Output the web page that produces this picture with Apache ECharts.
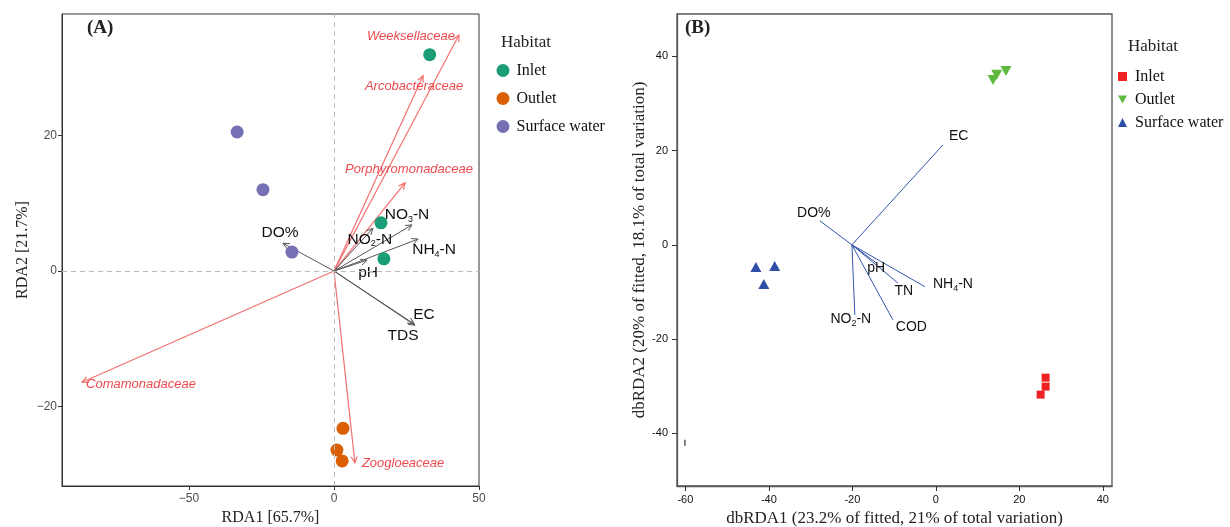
<!DOCTYPE html>
<html><head><meta charset="utf-8">
<script src="https://cdn.jsdelivr.net/npm/echarts@6/dist/echarts.min.js"></script>
<style>html,body{margin:0;padding:0;background:#fff}#c{width:1230px;height:527px}</style>
</head><body><div id="c"></div>
<script>
// ---------- DATA ----------
const habitats = ['Inlet', 'Outlet', 'Surface water'];

// Panel A (RDA) sample scores
const rdaInlet = [[33.0, 31.9], [16.2, 7.1], [17.2, 1.8]];
const rdaOutlet = [[3.1, -23.2], [1.0, -26.4], [2.8, -28.0]];
const rdaSurface = [[-33.4, 20.5], [-24.5, 12.0], [-14.5, 2.8]];

// Panel A environmental vectors
const envNamesA = ['DO%', 'NO{s|3}-N', 'NO{s|2}-N', 'NH{s|4}-N', 'pH', 'EC', 'TDS'];
const envXA = [-17.6, 26.9, 13.4, 29.0, 11.4, 27.9, 27.6];
const envYA = [4.1, 6.8, 6.3, 4.7, 1.6, -8.0, -7.8];

// Panel A taxa vectors
const taxaNamesA = ['Weeksellaceae', 'Arcobacteraceae', 'Porphyromonadaceae', 'Comamonadaceae', 'Zoogloeaceae'];
const taxaXA = [43.1, 30.7, 24.5, -86.9, 7.2];
const taxaYA = [34.8, 28.8, 13.0, -16.4, -28.3];

// Panel B (dbRDA) sample scores
const dbInlet = [[26.3, -28.2], [26.3, -30.1], [25.1, -31.8]];
const dbOutlet = [[13.7, 35.0], [14.6, 36.1], [16.8, 36.9]];
const dbSurface = [[-43.1, -4.7], [-38.6, -4.5], [-41.2, -8.3]];
const dbStray = [[-60.1, -42.0]];

// Panel B environmental vectors
const envNamesB = ['EC', 'DO%', 'NH{s|4}-N', 'TN', 'pH', 'COD', 'NO{s|2}-N'];
const envXB = [1.7, -27.8, -2.6, -9.1, -14.3, -10.3, -19.4];
const envYB = [21.2, 5.1, -8.9, -8.1, -3.8, -15.9, -14.9];
const originB = [-20.1, 0];

// Tick labels
const ticksAx = [-50, 0, 50];
const ticksAy = [-20, 0, 20];
const ticksBx = [-60, -40, -20, 0, 20, 40];
const ticksBy = [-40, -20, 0, 20, 40];

// ---------- LAYOUT (pixel offsets of vector labels) ----------
const labelPosEnvA = [[-3, -10, 'center'], [-5, -10, 'center'], [-3, 11, 'center'], [16, 11, 'center'], [1, 13, 'center'], [9, -11, 'center'], [-11, 12, 'center']];
const labelPosTaxaA = [[-4, 1, 'right'], [-9, 11, 'center'], [4, -13, 'center'], [4, 2, 'left'], [7, 0, 'left']];
const labelPosEnvB = [[6, -9, 'left'], [-6, -8, 'center'], [8, -3, 'left'], [6, 8, 'center'], [0, 5, 'center'], [3, 7, 'left'], [-4, 4, 'center']];

const SANS = '"Liberation Sans", Arial, sans-serif';
const SERIF = '"Liberation Serif", "Times New Roman", serif';
const colA = ['#1B9E77', '#D95F02', '#7570B3'];
const colB = ['#EE2222', '#5DB83E', '#3050A8'];
const downTri = 'path://M0,0 L10,0 L5,9 Z';

function vecRender(cfg) {
  return function (params, api) {
    const o = api.coord(cfg.origin);
    const t = api.coord([api.value(0), api.value(1)]);
    const i = api.value(2);
    const children = [{
      type: 'line',
      shape: { x1: o[0], y1: o[1], x2: t[0], y2: t[1] },
      style: { stroke: cfg.color, lineWidth: cfg.width }
    }];
    if (cfg.arrow) {
      const ang = Math.atan2(t[1] - o[1], t[0] - o[0]);
      const L = 7, a = Math.PI / 7;
      children.push({
        type: 'polyline',
        shape: { points: [[t[0] - L * Math.cos(ang - a), t[1] - L * Math.sin(ang - a)], [t[0], t[1]], [t[0] - L * Math.cos(ang + a), t[1] - L * Math.sin(ang + a)]] },
        style: { stroke: cfg.color, lineWidth: cfg.width, fill: null }
      });
    }
    const lp = cfg.labels[i];
    children.push({
      type: 'text',
      x: t[0] + lp[0], y: t[1] + lp[1],
      style: {
        text: cfg.names[i], align: lp[2], verticalAlign: 'middle',
        fill: cfg.textColor, fontSize: cfg.fontSize, fontFamily: SANS, fontStyle: cfg.italic ? 'italic' : 'normal',
        rich: { s: { fontSize: 9, fontFamily: SANS, fill: cfg.textColor, padding: [9, 0, 0, 0] } }
      }
    });
    return { type: 'group', children };
  };
}

function axisBase(extra) {
  return Object.assign({
    type: 'value',
    splitLine: { show: false },
    axisLine: { show: true, onZero: false, lineStyle: { color: '#333', width: 1 } },
  }, extra);
}

const fmtMinus = v => (v < 0 ? '\u2212' + Math.abs(v) : String(v));

const option = {
  backgroundColor: '#fff',
  animation: false,
  grid: [
    { left: 62, top: 14, width: 417, height: 472, show: true, borderColor: '#333', borderWidth: 1, containLabel: false, outerBoundsMode: 'none' },
    { left: 677, top: 14, width: 435, height: 472, show: true, borderColor: '#555', borderWidth: 1.3, containLabel: false, outerBoundsMode: 'none' }
  ],
  xAxis: [
    axisBase({
      gridIndex: 0, min: -93.8, max: 50,
      axisTick: { show: true, length: 4, customValues: ticksAx, lineStyle: { color: '#333' } },
      axisLabel: { customValues: ticksAx, formatter: fmtMinus, color: '#4D4D4D', fontSize: 12, fontFamily: SANS, margin: 7 },
      name: 'RDA1 [65.7%]', nameLocation: 'middle', nameGap: 18,
      nameTextStyle: { fontFamily: SERIF, fontSize: 16, color: '#222' }
    }),
    axisBase({
      gridIndex: 1, min: -62, max: 42.2,
      axisLine: { show: true, onZero: false, lineStyle: { color: '#555', width: 1.3 } },
      axisTick: { show: true, length: 5, customValues: ticksBx, lineStyle: { color: '#333' } },
      axisLabel: { customValues: ticksBx, color: '#111', fontSize: 11, fontFamily: '"Liberation Sans Narrow", ' + SANS, margin: 8 },
      name: 'dbRDA1 (23.2% of fitted, 21% of total variation)', nameLocation: 'middle', nameGap: 23,
      nameTextStyle: { fontFamily: SERIF, fontSize: 17, color: '#222' }
    })
  ],
  yAxis: [
    axisBase({
      gridIndex: 0, min: -31.7, max: 37.9,
      axisTick: { show: true, length: 4, customValues: ticksAy, lineStyle: { color: '#333' } },
      axisLabel: { customValues: ticksAy, formatter: fmtMinus, color: '#4D4D4D', fontSize: 12, fontFamily: SANS, margin: 5 },
      name: 'RDA2 [21.7%]', nameLocation: 'middle', nameGap: 31,
      nameTextStyle: { fontFamily: SERIF, fontSize: 16, color: '#222' }
    }),
    axisBase({
      gridIndex: 1, min: -51.2, max: 49,
      axisLine: { show: true, onZero: false, lineStyle: { color: '#555', width: 1.3 } },
      axisTick: { show: true, length: 5, customValues: ticksBy, lineStyle: { color: '#333' } },
      axisLabel: { customValues: ticksBy, color: '#111', fontSize: 11, fontFamily: '"Liberation Sans Narrow", ' + SANS, margin: 9 },
      name: 'dbRDA2 (20% of fitted, 18.1% of total variation)', nameLocation: 'middle', nameGap: 26,
      nameTextStyle: { fontFamily: SERIF, fontSize: 17, color: '#222' }
    })
  ],
  legend: [
    {
      left: 496.5, top: 62.5, padding: 0, orient: 'vertical', itemWidth: 13, itemHeight: 13, itemGap: 12,
      selectedMode: false, textStyle: { fontFamily: SERIF, fontSize: 16, color: '#111', lineHeight: 13, padding: [0, 0, 0, 2] },
      data: habitats.map((h, i) => ({ name: h, icon: 'circle', itemStyle: { color: colA[i], opacity: 1 } }))
    },
    {
      left: 1118, top: 68.5, padding: 0, orient: 'vertical', itemWidth: 9, itemHeight: 9, itemGap: 7,
      selectedMode: false, textStyle: { fontFamily: SERIF, fontSize: 16, color: '#111', lineHeight: 12, padding: [0, 0, 0, 3] },
      data: habitats.map((h, i) => ({ name: h, icon: ['rect', downTri, 'triangle'][i], itemStyle: { color: colB[i], opacity: 1 } }))
    }
  ],
  graphic: [
    { type: 'text', left: 87, top: 19, style: { text: '(A)', font: 'bold 19px ' + SERIF, fill: '#222' } },
    { type: 'text', left: 685, top: 19, style: { text: '(B)', font: 'bold 19px ' + SERIF, fill: '#222' } },
    { type: 'text', left: 501, top: 34, style: { text: 'Habitat', font: '17px ' + SERIF, fill: '#222' } },
    { type: 'text', left: 1128, top: 38, style: { text: 'Habitat', font: '17px ' + SERIF, fill: '#222' } }
  ],
  series: [
    {
      type: 'scatter', xAxisIndex: 0, yAxisIndex: 0, data: [], silent: true,
      markLine: {
        silent: true, symbol: 'none', label: { show: false },
        lineStyle: { color: '#BBBBBB', type: [5, 4], width: 1 },
        data: [{ xAxis: 0 }, { yAxis: 0 }]
      }
    },
    {
      type: 'custom', xAxisIndex: 0, yAxisIndex: 0, clip: false, silent: true,
      renderItem: vecRender({ origin: [0, 0], color: '#F47070', width: 1.2, arrow: true, names: taxaNamesA, labels: labelPosTaxaA, textColor: '#EE4A4F', fontSize: 13, italic: true }),
      encode: { x: 0, y: 1 },
      data: taxaXA.map((x, i) => [x, taxaYA[i], i])
    },
    {
      type: 'custom', xAxisIndex: 0, yAxisIndex: 0, clip: false, silent: true,
      renderItem: vecRender({ origin: [0, 0], color: '#555555', width: 1, arrow: true, names: envNamesA, labels: labelPosEnvA, textColor: '#111', fontSize: 15.5, italic: false }),
      encode: { x: 0, y: 1 },
      data: envXA.map((x, i) => [x, envYA[i], i])
    },
    { name: 'Inlet', type: 'scatter', xAxisIndex: 0, yAxisIndex: 0, symbol: 'circle', symbolSize: 13, itemStyle: { color: colA[0], opacity: 1 }, data: rdaInlet },
    { name: 'Outlet', type: 'scatter', xAxisIndex: 0, yAxisIndex: 0, symbol: 'circle', symbolSize: 13, itemStyle: { color: colA[1], opacity: 1 }, data: rdaOutlet },
    { name: 'Surface water', type: 'scatter', xAxisIndex: 0, yAxisIndex: 0, symbol: 'circle', symbolSize: 13, itemStyle: { color: colA[2], opacity: 1 }, data: rdaSurface },

    {
      type: 'custom', xAxisIndex: 1, yAxisIndex: 1, clip: false, silent: true,
      renderItem: vecRender({ origin: originB, color: '#3355AA', width: 1, arrow: false, names: envNamesB, labels: labelPosEnvB, textColor: '#111', fontSize: 14, italic: false }),
      encode: { x: 0, y: 1 },
      data: envXB.map((x, i) => [x, envYB[i], i])
    },
    { name: 'Inlet', type: 'scatter', xAxisIndex: 1, yAxisIndex: 1, symbol: 'rect', symbolSize: 8, itemStyle: { color: colB[0], opacity: 1 }, data: dbInlet },
    { name: 'Outlet', type: 'scatter', xAxisIndex: 1, yAxisIndex: 1, symbol: downTri, symbolSize: [11, 10], itemStyle: { color: colB[1], opacity: 1 }, data: dbOutlet },
    { name: 'Surface water', type: 'scatter', xAxisIndex: 1, yAxisIndex: 1, symbol: 'triangle', symbolSize: [11, 10], itemStyle: { color: colB[2], opacity: 1 }, data: dbSurface },
    { type: 'scatter', xAxisIndex: 1, yAxisIndex: 1, symbol: 'rect', symbolSize: [1.5, 6], itemStyle: { color: '#555', opacity: 1 }, data: dbStray, silent: true }
  ]
};

const chart = echarts.init(document.getElementById('c'), null, { renderer: 'canvas' });
chart.setOption(option);
</script>
</body></html>
